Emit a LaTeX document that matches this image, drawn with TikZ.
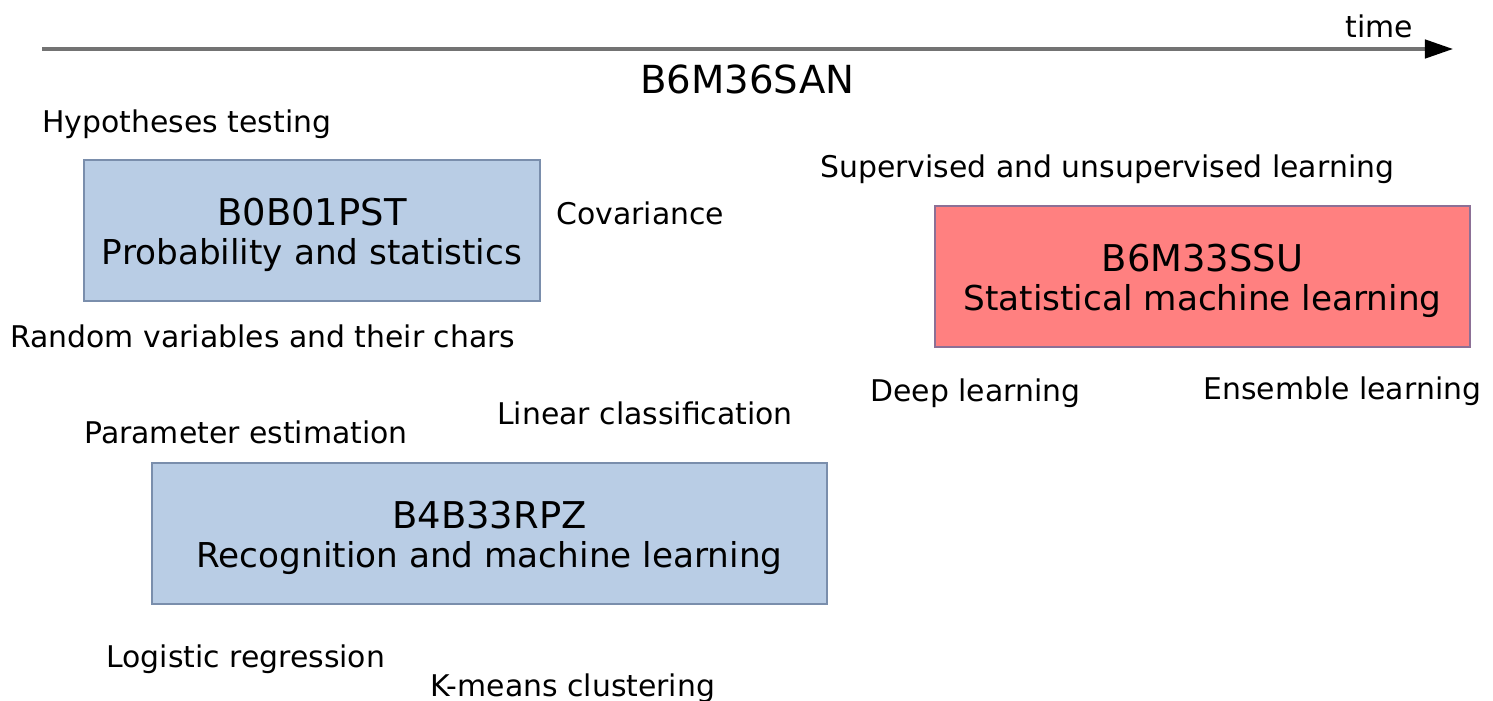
\documentclass[tikz,border=0pt]{standalone}
\usepackage{fontspec}
\setmainfont{DejaVu Sans}
\usetikzlibrary{arrows.meta}
\definecolor{courseblue}{RGB}{185,205,229}
\definecolor{coursebluedark}{RGB}{122,142,172}
\definecolor{coursered}{RGB}{255,128,128}
\definecolor{courseredline}{RGB}{140,112,150}
\definecolor{timegray}{gray}{.45}
\newcommand{\code}[1]{{\fontsize{21}{22.2}\selectfont\rule{0pt}{1em}#1}}
\newcommand{\heightcourse}{2.82cm}
\tikzset{
    topic/.style={anchor=west, inner sep=0pt, font=\fontsize{17}{20}\selectfont, text height=0.73em, text depth=0pt},
    course/.style={draw, rectangle, line width=1.1pt, minimum height=\heightcourse, align=center, inner sep=0pt, font=\fontsize{19.5}{22.2}\selectfont},
    bluecourse/.style={course, fill=courseblue, draw=coursebluedark},
    redcourse/.style={course, fill=coursered, draw=courseredline}
}
\begin{document}
\begin{tikzpicture}[x=0.02cm, y=-0.02cm]
    \useasboundingbox (0,0) rectangle (1493,700);

    % time axis
    \coordinate (tstart) at (42,49);
    \coordinate (tend) at (1453,49);
    \draw[timegray, line width=1.9pt, -{Triangle[length=16pt, width=10.5pt, color=black]}] (tstart) -- (tend);
    \node[topic] (time) at (1345,31) {time};
    \node[topic, font=\fontsize{22}{24}\selectfont] (SAN) at (640,87) {B6M36SAN};

    % courses
    \node[bluecourse, minimum width=9.12cm] (PST) at (312,230.5) {\code{B0B01PST}\\ Probability and statistics};
    \node[redcourse, minimum width=10.7cm] (SSU) at (1202.5,276.5) {\code{B6M33SSU}\\ Statistical machine learning};
    \node[bluecourse, minimum width=13.5cm] (RPZ) at (489.5,533.5) {\code{B4B33RPZ}\\ Recognition and machine learning};

    % topics
    \node[topic] (hyp) at (42,126) {Hypotheses testing};
    \node[topic] (cov) at (556,218) {Covariance};
    \node[topic] (rand) at (10,341) {Random variables and their chars};
    \node[topic] (sup) at (820,171) {Supervised and unsupervised learning};
    \node[topic] (deep) at (870,395) {Deep learning};
    \node[topic] (ens) at (1203,393) {Ensemble learning};
    \node[topic] (lin) at (497,418) {Linear classification};
    \node[topic] (par) at (84,437) {Parameter estimation};
    \node[topic] (log) at (106,661) {Logistic regression};
    \node[topic] (kmeans) at (430,690) {K-means clustering};
\end{tikzpicture}
\end{document}
